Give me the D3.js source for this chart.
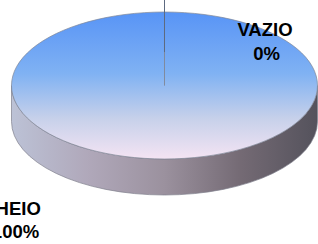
<!DOCTYPE html>
<html><head><meta charset="utf-8">
<script src="https://cdn.jsdelivr.net/npm/d3@7"></script>
<style>html,body{margin:0;padding:0;background:#fff;overflow:hidden}svg{display:block}</style>
</head><body>
<svg id="chart" width="318" height="244"></svg>
<script>
const categories = ["CHEIO", "VAZIO"];
const values = [100, 0];
const labelText = ["100%", "0%"];

const W = 318, H = 244;
const cx = 164.5, cy = 85.5, rx = 153, ry = 73.5, depth = 36;
const svg = d3.select("#chart");
const defs = svg.append("defs");

const topGrad = defs.append("linearGradient").attr("id","topG").attr("x1",0).attr("y1",0).attr("x2",0).attr("y2",1);
[[0,"#5894f6"],[0.42,"#80b2f3"],[0.72,"#c6d0ea"],[1,"#f4e4f3"]].forEach(s=>topGrad.append("stop").attr("offset",s[0]).attr("stop-color",s[1]));
const sideGrad = defs.append("linearGradient").attr("id","sideG").attr("x1",0).attr("y1",0).attr("x2",1).attr("y2",0);
[[0,"#bcc2d6"],[0.25,"#b0a8ba"],[0.5,"#9b919e"],[0.75,"#746a74"],[1,"#54525c"]].forEach(s=>sideGrad.append("stop").attr("offset",s[0]).attr("stop-color",s[1]));

const pie = d3.pie().sort(null).value(d=>d)(values);
const sy = ry / rx;

// side (front half of the full slice)
const side = `M${cx-rx},${cy} A${rx},${ry} 0 0 0 ${cx+rx},${cy} L${cx+rx},${cy+depth} A${rx},${ry} 0 0 1 ${cx-rx},${cy+depth} Z`;
svg.append("path").attr("d", side).attr("fill","url(#sideG)").attr("stroke","#80808c").attr("stroke-width",0.7);

// top faces
const arc = d3.arc().innerRadius(0).outerRadius(rx);
const g = svg.append("g").attr("transform",`translate(${cx},${cy}) scale(1,${sy})`);
g.selectAll("path.top").data(pie.filter(d=>d.value>0)).join("path")
  .attr("class","top")
  .attr("d", d => d.endAngle - d.startAngle >= 2*Math.PI - 1e-6 ? arc({startAngle:0,endAngle:2*Math.PI-1e-4}) : arc(d))
  .attr("fill","url(#topG)")
  .attr("stroke","#7f8696").attr("stroke-width",0.7).attr("vector-effect","non-scaling-stroke");

// boundary line of the zero slice
pie.filter(d=>d.value===0).forEach(d=>{
  const a = d.startAngle;
  const p = k => [cx + Math.sin(a)*rx*k, cy - Math.cos(a)*ry*k];
  const p1 = p(1.17), p2 = p(0.455);
  svg.append("line").attr("x1",p1[0]).attr("y1",p1[1]).attr("x2",p2[0]).attr("y2",p2[1])
    .attr("stroke","#5d6a80").attr("stroke-width",1);
});

// labels: [x name, y name, x value, y value]
const labelPos = [[11.5,215,15.5,237.7],[265,35.7,266.5,60]];
categories.forEach((c,i)=>{
  const t = svg.append("text").attr("text-anchor","middle")
    .attr("font-family","Liberation Sans, Arial, sans-serif").attr("font-weight","bold")
    .attr("font-size",18.5).attr("fill","#000");
  t.append("tspan").attr("x",labelPos[i][0]).attr("y",labelPos[i][1]).text(c);
  t.append("tspan").attr("x",labelPos[i][2]).attr("y",labelPos[i][3]).text(labelText[i]);
});
</script>
</body></html>
